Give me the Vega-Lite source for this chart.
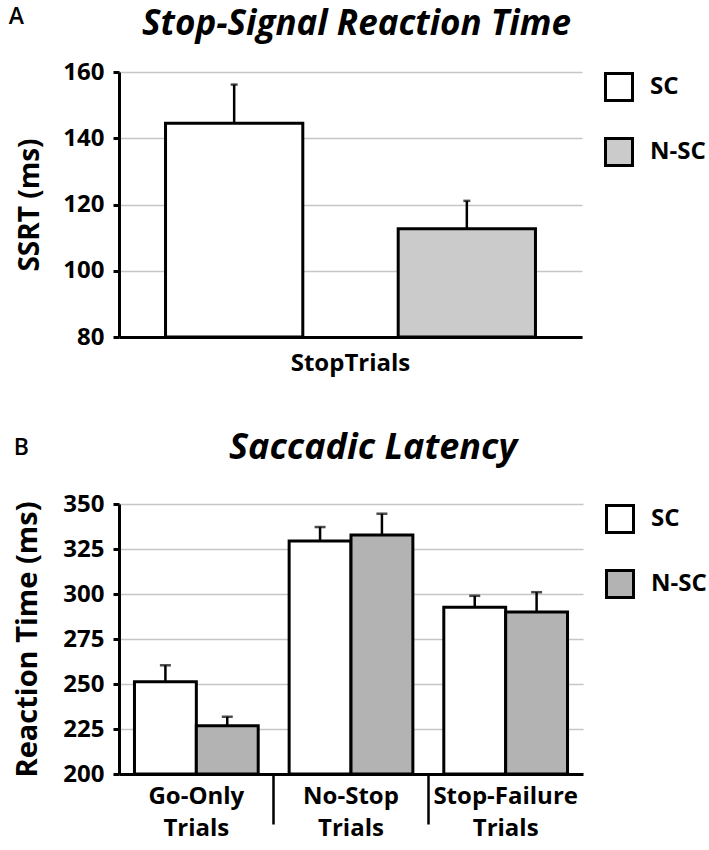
{
  "$schema": "https://vega.github.io/schema/vega-lite/v6.json",
  "background": "white",
  "padding": {"left": 8, "top": 6, "right": 5, "bottom": 2},
  "config": {
    "font": "Open Sans",
    "view": {"stroke": null},
    "axis": {"labelFont": "Open Sans", "labelFontWeight": "bold", "labelColor": "black", "titleColor": "black", "titleFont": "Open Sans", "titleFontWeight": "bold"},
    "legend": {"title": null, "orient": "right", "offset": 22, "padding": 0, "symbolType": "square", "symbolSize": 729, "symbolStrokeColor": "black", "symbolStrokeWidth": 3, "labelFont": "Open Sans", "labelFontWeight": "bold", "labelFontSize": 24, "labelColor": "black", "rowPadding": 25, "labelOffset": 16},
    "title": {"font": "Open Sans", "color": "black"}
  },
  "datasets": {
    "ssrt": [
      {"group": "StopTrials", "series": "SC", "value": 144.5, "upper": 156.2},
      {"group": "StopTrials", "series": "N-SC", "value": 112.7, "upper": 121.1}
    ],
    "sacc": [
      {"group": "Go-Only Trials", "series": "SC", "value": 251.2, "upper": 260.4},
      {"group": "Go-Only Trials", "series": "N-SC", "value": 226.8, "upper": 231.8},
      {"group": "No-Stop Trials", "series": "SC", "value": 329.5, "upper": 337.2},
      {"group": "No-Stop Trials", "series": "N-SC", "value": 332.8, "upper": 344.6},
      {"group": "Stop-Failure Trials", "series": "SC", "value": 292.7, "upper": 299.0},
      {"group": "Stop-Failure Trials", "series": "N-SC", "value": 290.0, "upper": 301.0}
    ]
  },
  "resolve": {"scale": {"fill": "independent", "xOffset": "independent", "x": "independent", "y": "independent"}},
  "spacing": 55,
  "vconcat": [
    {
      "title": {"text": "A", "anchor": "start", "frame": "bounds", "fontSize": 23, "fontWeight": 600, "baseline": "alphabetic", "offset": -35, "dy": 5, "dx": -8},
      "resolve": {"scale": {"fill": "independent", "xOffset": "independent"}},
      "vconcat": [
        {
          "width": 463,
          "height": 265,
          "data": {"name": "ssrt"},
          "title": {"text": "Stop-Signal Reaction Time", "fontSize": 35, "fontWeight": "bold", "fontStyle": "italic", "anchor": "middle", "frame": "group", "baseline": "alphabetic", "offset": -10, "dx": 6},
          "encoding": {
            "x": {"field": "group", "type": "nominal", "title": null,
                  "scale": {"paddingInner": 0, "paddingOuter": 0},
                  "axis": {"domainColor": "black", "domainWidth": 3, "ticks": false, "labelFontSize": 24, "labelPadding": 14, "labelAngle": 0, "grid": false}},
            "xOffset": {"field": "series", "type": "nominal", "sort": ["SC", "N-SC"], "scale": {"paddingInner": 0.41, "paddingOuter": 0.2}},
            "y": {"field": "value", "type": "quantitative", "title": "SSRT (ms)",
                  "scale": {"domain": [80, 160], "nice": false, "zero": false},
                  "axis": {"values": [80, 100, 120, 140, 160], "domainColor": "black", "domainWidth": 3, "tickColor": "black", "tickWidth": 3, "tickSize": 6, "labelFontSize": 24, "labelPadding": 9, "gridColor": "#c6c6c6", "gridWidth": 1.5, "titleFontSize": 28, "titlePadding": 18}}
          },
          "layer": [
            {"mark": {"type": "bar", "stroke": "black", "strokeWidth": 3},
             "encoding": {
               "y2": {"datum": 80},
               "fill": {"field": "series", "type": "nominal", "sort": ["SC", "N-SC"],
                        "scale": {"domain": ["SC", "N-SC"], "range": ["#ffffff", "#cbcbcb"]}}}},
            {"mark": {"type": "rule", "strokeWidth": 2.5, "color": "black"},
             "encoding": {"y2": {"field": "upper"}}},
            {"mark": {"type": "tick", "thickness": 2.5, "size": 7, "color": "black"},
             "encoding": {"y": {"field": "upper", "type": "quantitative", "title": "SSRT (ms)"}}}
          ]
        }
      ]
    },
    {
      "title": {"text": "B", "anchor": "start", "frame": "bounds", "fontSize": 23, "fontWeight": 600, "baseline": "alphabetic", "offset": -35, "dy": 13, "dx": 0},
      "resolve": {"scale": {"fill": "independent", "xOffset": "independent"}},
      "vconcat": [
        {
          "width": 464,
          "height": 270,
          "data": {"name": "sacc"},
          "title": {"text": "Saccadic Latency", "fontSize": 36, "fontWeight": "bold", "fontStyle": "italic", "anchor": "middle", "frame": "group", "baseline": "alphabetic", "offset": -3, "dx": 22},
          "encoding": {
            "x": {"field": "group", "type": "nominal", "title": null,
                  "sort": ["Go-Only Trials", "No-Stop Trials", "Stop-Failure Trials"],
                  "scale": {"paddingInner": 0, "paddingOuter": 0},
                  "axis": {"domainColor": "black", "domainWidth": 3, "ticks": true, "bandPosition": 0, "tickSize": 50, "tickWidth": 2.5,
                           "tickColor": {"condition": {"test": "datum.value === 'Go-Only Trials'", "value": "transparent"}, "value": "black"},
                           "labelExpr": "split(datum.label, ' ')", "labelLineHeight": 32, "labelFontSize": 24, "labelPadding": -40, "labelAngle": 0, "grid": false}},
            "xOffset": {"field": "series", "type": "nominal", "sort": ["SC", "N-SC"], "scale": {"paddingInner": 0, "paddingOuter": 0.25}},
            "y": {"field": "value", "type": "quantitative", "title": "Reaction Time (ms)",
                  "scale": {"domain": [200, 350], "nice": false, "zero": false},
                  "axis": {"values": [200, 225, 250, 275, 300, 325, 350], "domainColor": "black", "domainWidth": 3, "tickColor": "black", "tickWidth": 3, "tickSize": 6, "labelFontSize": 24, "labelPadding": 9, "gridColor": "#c6c6c6", "gridWidth": 1.5, "titleFontSize": 29, "titlePadding": 20}}
          },
          "layer": [
            {"mark": {"type": "bar", "stroke": "black", "strokeWidth": 3},
             "encoding": {
               "y2": {"datum": 200},
               "fill": {"field": "series", "type": "nominal", "sort": ["SC", "N-SC"],
                        "scale": {"domain": ["SC", "N-SC"], "range": ["#ffffff", "#b3b3b3"]}}}},
            {"mark": {"type": "rule", "strokeWidth": 2.5, "color": "black"},
             "encoding": {"y2": {"field": "upper"}}},
            {"mark": {"type": "tick", "thickness": 2.5, "size": 11, "color": "black"},
             "encoding": {"y": {"field": "upper", "type": "quantitative", "title": "Reaction Time (ms)"}}}
          ]
        }
      ]
    }
  ]
}
